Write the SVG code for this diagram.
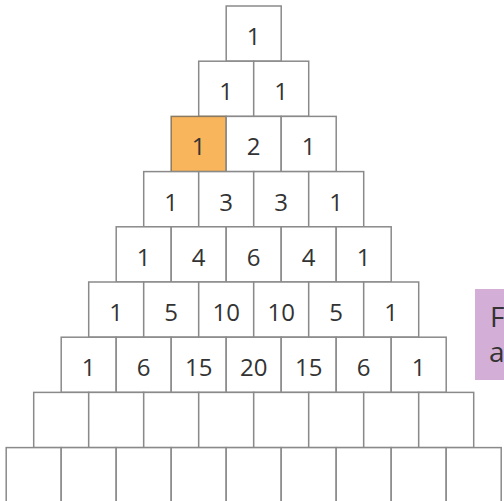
<svg xmlns="http://www.w3.org/2000/svg" width="504" height="501" viewBox="0 0 504 501">
<style>
.c rect{fill:#fff;stroke:#8a8a8a;stroke-width:1.5}
.c.hl rect{fill:#f8b55c;stroke:#8a7a60}
.c text{font-family:"Open Sans","Noto Sans",sans-serif;font-size:24px;fill:#333;text-anchor:middle}
.note text{font-family:"Open Sans","Noto Sans",sans-serif;font-size:28px;fill:#333}
</style>
<rect width="504" height="501" fill="#fff"/>
<g id="row0">
<g id="c0_0" class="c" transform="translate(226.2,6)"><rect width="55" height="55.2"/><text x="27.5" y="39">1</text></g>
</g>
<g id="row1">
<g id="c1_0" class="c" transform="translate(198.7,61.2)"><rect width="55" height="55.2"/><text x="27.5" y="39">1</text></g>
<g id="c1_1" class="c" transform="translate(253.7,61.2)"><rect width="55" height="55.2"/><text x="27.5" y="39">1</text></g>
</g>
<g id="row2">
<g id="c2_0" class="c hl" transform="translate(171.2,116.4)"><rect width="55" height="55.2"/><text x="27.5" y="39">1</text></g>
<g id="c2_1" class="c" transform="translate(226.2,116.4)"><rect width="55" height="55.2"/><text x="27.5" y="39">2</text></g>
<g id="c2_2" class="c" transform="translate(281.2,116.4)"><rect width="55" height="55.2"/><text x="27.5" y="39">1</text></g>
</g>
<g id="row3">
<g id="c3_0" class="c" transform="translate(143.7,171.6)"><rect width="55" height="55.2"/><text x="27.5" y="39">1</text></g>
<g id="c3_1" class="c" transform="translate(198.7,171.6)"><rect width="55" height="55.2"/><text x="27.5" y="39">3</text></g>
<g id="c3_2" class="c" transform="translate(253.7,171.6)"><rect width="55" height="55.2"/><text x="27.5" y="39">3</text></g>
<g id="c3_3" class="c" transform="translate(308.7,171.6)"><rect width="55" height="55.2"/><text x="27.5" y="39">1</text></g>
</g>
<g id="row4">
<g id="c4_0" class="c" transform="translate(116.2,226.8)"><rect width="55" height="55.2"/><text x="27.5" y="39">1</text></g>
<g id="c4_1" class="c" transform="translate(171.2,226.8)"><rect width="55" height="55.2"/><text x="27.5" y="39">4</text></g>
<g id="c4_2" class="c" transform="translate(226.2,226.8)"><rect width="55" height="55.2"/><text x="27.5" y="39">6</text></g>
<g id="c4_3" class="c" transform="translate(281.2,226.8)"><rect width="55" height="55.2"/><text x="27.5" y="39">4</text></g>
<g id="c4_4" class="c" transform="translate(336.2,226.8)"><rect width="55" height="55.2"/><text x="27.5" y="39">1</text></g>
</g>
<g id="row5">
<g id="c5_0" class="c" transform="translate(88.7,282)"><rect width="55" height="55.2"/><text x="27.5" y="39">1</text></g>
<g id="c5_1" class="c" transform="translate(143.7,282)"><rect width="55" height="55.2"/><text x="27.5" y="39">5</text></g>
<g id="c5_2" class="c" transform="translate(198.7,282)"><rect width="55" height="55.2"/><text x="27.5" y="39">10</text></g>
<g id="c5_3" class="c" transform="translate(253.7,282)"><rect width="55" height="55.2"/><text x="27.5" y="39">10</text></g>
<g id="c5_4" class="c" transform="translate(308.7,282)"><rect width="55" height="55.2"/><text x="27.5" y="39">5</text></g>
<g id="c5_5" class="c" transform="translate(363.7,282)"><rect width="55" height="55.2"/><text x="27.5" y="39">1</text></g>
</g>
<g id="row6">
<g id="c6_0" class="c" transform="translate(61.2,337.2)"><rect width="55" height="55.2"/><text x="27.5" y="39">1</text></g>
<g id="c6_1" class="c" transform="translate(116.2,337.2)"><rect width="55" height="55.2"/><text x="27.5" y="39">6</text></g>
<g id="c6_2" class="c" transform="translate(171.2,337.2)"><rect width="55" height="55.2"/><text x="27.5" y="39">15</text></g>
<g id="c6_3" class="c" transform="translate(226.2,337.2)"><rect width="55" height="55.2"/><text x="27.5" y="39">20</text></g>
<g id="c6_4" class="c" transform="translate(281.2,337.2)"><rect width="55" height="55.2"/><text x="27.5" y="39">15</text></g>
<g id="c6_5" class="c" transform="translate(336.2,337.2)"><rect width="55" height="55.2"/><text x="27.5" y="39">6</text></g>
<g id="c6_6" class="c" transform="translate(391.2,337.2)"><rect width="55" height="55.2"/><text x="27.5" y="39">1</text></g>
</g>
<g id="row7">
<g id="c7_0" class="c" transform="translate(33.7,392.4)"><rect width="55" height="55.2"/></g>
<g id="c7_1" class="c" transform="translate(88.7,392.4)"><rect width="55" height="55.2"/></g>
<g id="c7_2" class="c" transform="translate(143.7,392.4)"><rect width="55" height="55.2"/></g>
<g id="c7_3" class="c" transform="translate(198.7,392.4)"><rect width="55" height="55.2"/></g>
<g id="c7_4" class="c" transform="translate(253.7,392.4)"><rect width="55" height="55.2"/></g>
<g id="c7_5" class="c" transform="translate(308.7,392.4)"><rect width="55" height="55.2"/></g>
<g id="c7_6" class="c" transform="translate(363.7,392.4)"><rect width="55" height="55.2"/></g>
<g id="c7_7" class="c" transform="translate(418.7,392.4)"><rect width="55" height="55.2"/></g>
</g>
<g id="row8">
<g id="c8_0" class="c" transform="translate(6.2,447.6)"><rect width="55" height="55.2"/></g>
<g id="c8_1" class="c" transform="translate(61.2,447.6)"><rect width="55" height="55.2"/></g>
<g id="c8_2" class="c" transform="translate(116.2,447.6)"><rect width="55" height="55.2"/></g>
<g id="c8_3" class="c" transform="translate(171.2,447.6)"><rect width="55" height="55.2"/></g>
<g id="c8_4" class="c" transform="translate(226.2,447.6)"><rect width="55" height="55.2"/></g>
<g id="c8_5" class="c" transform="translate(281.2,447.6)"><rect width="55" height="55.2"/></g>
<g id="c8_6" class="c" transform="translate(336.2,447.6)"><rect width="55" height="55.2"/></g>
<g id="c8_7" class="c" transform="translate(391.2,447.6)"><rect width="55" height="55.2"/></g>
<g id="c8_8" class="c" transform="translate(446.2,447.6)"><rect width="55" height="55.2"/></g>
</g>
<g id="note" class="note">
<rect x="475" y="289" width="40" height="91" fill="#d3afd7"/>
<text x="490" y="327">F</text>
<text x="489" y="362">a</text>
</g>
<g id="connectors"/>
</svg>
